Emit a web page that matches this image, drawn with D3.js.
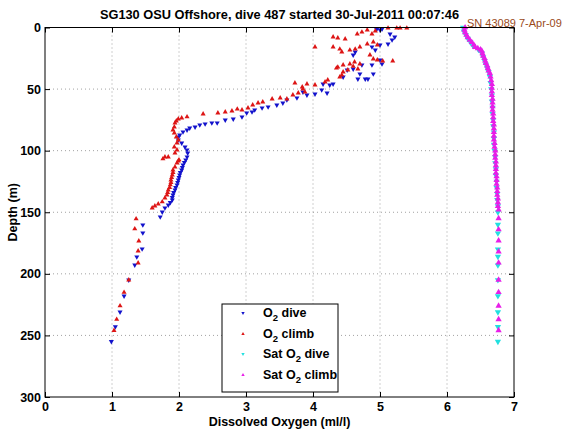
<!DOCTYPE html>
<html><head><meta charset="utf-8">
<script src="https://cdn.jsdelivr.net/npm/d3@7"></script>
<style>
body{margin:0;background:#fff;}
svg{display:block;}
text{font-family:"Liberation Sans",Arial,Helvetica,sans-serif;}
</style>
</head><body>
<svg id="chart" width="570" height="430"></svg>
<script>
// ---------- data ----------
const titleText = "SG130 OSU Offshore, dive 487 started 30-Jul-2011 00:07:46";
const snText = "SN 43089 7-Apr-09";
const xLabel = "Dissolved Oxygen (ml/l)";
const yLabel = "Depth (m)";
const xTicks = [0,1,2,3,4,5,6,7];
const yTicks = [0,50,100,150,200,250,300];

// [oxygen (ml/l), depth (m)]
const o2Dive = [
 [5.00,2],[4.95,1.5],[5.03,1.2],[5.15,5.3],[5.22,7.7],[5.18,10.1],[5.12,13.4],[5.00,14.2],[4.88,15.8],
 [4.93,18.3],[4.63,19.9],[4.60,22.3],[5.00,26.4],[5.03,29.6],[4.88,30.4],[4.73,30.4],
 [4.60,33.7],[4.51,34.5],[4.90,37.7],[4.70,37.7],[4.45,40.2],[4.67,41.8],[4.78,41.8],
 [4.82,41.8],[4.30,45.9],[4.25,46.7],[4.15,45.9],[4.13,50.7],[4.21,53.2],[4.03,54.0],
 [3.85,52.4],[3.91,54.8],[3.76,57.2],[3.61,58.8],[3.55,61.3],[3.46,62.9],[3.33,64.5],
 [3.24,65.3],[3.13,66.9],[3.09,68.5],[3.01,69.3],[2.94,72.6],[2.81,74.3],[2.69,75.1],
 [2.57,77.5],[2.49,77.5],[2.39,78.3],[2.31,79.1],[2.24,80.8],[2.16,81.6],[2.12,83.2],
 [2.06,84.8],[2.01,87.3],[1.99,88.9],[1.99,91.3],[2.04,93.8],[2.09,97.0],[2.12,99.4],
 [2.13,101.9],[2.12,105.1],[2.10,107.5],[2.08,109.5],[2.06,111.6],[2.05,113.7],[2.04,115.7],
 [2.02,117.7],[2.01,119.7],[2.00,121.8],[1.99,123.8],[1.98,125.8],[1.97,127.8],[1.95,129.9],
 [1.94,131.9],[1.92,134.0],[1.91,136.0],[1.90,138.0],[1.90,140.0],[1.87,142.1],[1.84,144.1],
 [1.79,146.5],[1.75,149.8],[1.72,153.8],
 [1.46,160.3],[1.46,166.8],[1.45,179.8],[1.37,186.3],[1.34,192.8],
 [1.25,205],[1.18,218],[1.12,231],[1.05,243],[0.99,255]
];
const o2Climb = [
 [1.03,246],[1.07,237],[1.12,226],[1.18,215],[1.25,205],
 [1.39,191.2],[1.39,181.4],[1.40,173.3],[1.34,163.5],[1.36,155.4],
 [1.60,146.5],[1.64,144.9],[1.69,143.3],[1.75,141.6],[1.79,138.4],[1.82,136.0],[1.83,134.0],
 [1.84,131.9],[1.86,129.9],[1.87,127.8],[1.88,125.8],[1.88,123.8],[1.89,121.8],[1.90,119.7],
 [1.91,117.7],[1.91,115.7],[1.94,113.2],[1.97,110.0],[1.99,108.4],[2.00,107.5],
 [1.76,106.7],[1.79,105.1],[1.84,105.1],
 [1.94,101.9],[1.97,99.4],[1.93,97.0],[1.97,93.8],[1.99,91.3],[1.96,88.9],[1.93,85.6],
 [1.91,83.2],[1.93,80.8],[1.94,77.5],[1.96,75.9],[1.99,74.3],
 [2.04,73.5],[2.12,72.6],[2.36,70.2],[2.58,69.4],[2.69,68.6],[2.79,67.8],[2.87,66.2],
 [2.94,67.0],[3.03,65.3],[3.10,62.9],[3.18,61.3],[3.25,60.5],[3.39,58.0],[3.51,57.2],
 [3.61,58.0],[3.70,54.8],[3.78,53.2],[3.84,48.3],[3.88,52.4],
 [3.85,49.9],[3.91,45.9],[3.73,45.0],[4.03,46.7],[4.18,44.2],[4.22,42.6],[4.40,40.2],[4.43,38.6],
 [4.45,36.1],[4.37,32.1],[4.45,30.4],[4.55,29.6],[4.70,29.6],[4.67,33.7],[4.52,34.5],
 [4.60,31.5],[4.35,33.0],[4.62,28.0],
 [4.85,22.3],[4.90,25.6],[4.96,26.4],[5.04,27.2],[5.19,27.2],[4.43,19.9],[4.55,18.3],
 [4.63,17.5],[4.70,15.8],[4.81,13.4],[4.90,11.8],[4.96,14.2],[4.30,15.8],[4.40,17.5],
 [4.03,15.8],[4.30,7.7],[4.37,8.5],[4.48,9.3],[4.66,5.3],[4.73,3.7],[4.81,2.0],[4.88,5.3],
 [4.93,2.8],[5.12,0.5],[5.25,0.5],[5.30,0.5],[5.40,0.5]
];
const satDive = [
 [6.24,0],[6.25,3],[6.28,6],[6.31,9],[6.35,12],[6.39,15],[6.47,18],[6.52,21],[6.54,24],
 [6.56,27],[6.58,30],[6.60,33],[6.62,36],[6.64,40],[6.65,45],[6.66,50],[6.67,55],[6.67,60],
 [6.68,65],[6.68,70],[6.69,75],[6.69,80],[6.70,85],[6.70,90],[6.70,95],[6.71,100],[6.72,105],
 [6.72,110],[6.73,115],[6.73,120],[6.74,125],[6.74,130],[6.75,135],[6.75,140],[6.76,145],
 [6.76,150],[6.76,160],[6.76,167],[6.76,180],[6.76,186],[6.76,193],[6.76,205],[6.76,218],
 [6.76,231],[6.76,243],[6.76,255]
];
const satClimb = [
 [6.27,0],[6.26,2],[6.27,4],[6.29,6],[6.31,8],[6.34,10],[6.37,12],[6.40,14],[6.42,16],
 [6.46,17],[6.50,18],[6.52,19],[6.53,21],[6.54,23],[6.56,25],[6.57,27],[6.58,29],[6.60,31],
 [6.61,33],[6.62,35],[6.64,37],[6.65,40],[6.66,43],[6.67,46],[6.67,49],[6.67,52],[6.67,55],
 [6.68,58],[6.68,61],[6.68,64],[6.68,67],[6.69,70],[6.69,73],[6.69,76],[6.70,79],[6.70,82],
 [6.70,85],[6.70,88],[6.70,91],[6.71,94],[6.71,97],[6.72,100],[6.72,103],[6.72,106],
 [6.73,109],[6.73,112],[6.73,115],[6.73,118],[6.74,121],[6.74,124],[6.74,127],[6.75,130],
 [6.75,133],[6.75,136],[6.76,139],[6.76,142],[6.76,145],[6.77,148],
 [6.77,155],[6.77,164],[6.77,173],[6.77,182],[6.77,191],[6.77,205],[6.77,215],[6.77,226],
 [6.77,237],[6.77,246]
];
const seriesNames = ["dive","climb","Sat dive","Sat climb"];
const seriesColors = ["#1212cc","#dd1515","#22e0e0","#e81ee8"];

// ---------- drawing ----------
const svg = d3.select("#chart");
const L = 45, R = 514, T = 27.5, B = 397;
const x = d3.scaleLinear().domain([0,7]).range([L,R]);
const y = d3.scaleLinear().domain([0,300]).range([T,B]);
const FS = "12.5px";

svg.append("rect").attr("x",0).attr("y",0).attr("width",570).attr("height",430).attr("fill","#fff");

// grid
const grid = svg.append("g").attr("stroke","#8a8a8a").attr("stroke-width",0.8).attr("stroke-dasharray","1,3");
grid.selectAll(".gx").data(xTicks.slice(1,-1)).join("line")
  .attr("x1",d=>x(d)).attr("x2",d=>x(d)).attr("y1",T).attr("y2",B);
grid.selectAll(".gy").data(yTicks.slice(1,-1)).join("line")
  .attr("y1",d=>y(d)).attr("y2",d=>y(d)).attr("x1",L).attr("x2",R);

// data
function drawSeries(data, color, down, size){
  const tri = d3.symbol().type(d3.symbolTriangle).size(size);
  svg.append("g").selectAll("path").data(data).join("path")
    .attr("d", tri)
    .attr("fill", color)
    .attr("transform", d=>`translate(${x(d[0])},${y(d[1])})` + (down?" rotate(180)":""));
}
drawSeries(o2Dive, seriesColors[0], true, 11);
drawSeries(o2Climb, seriesColors[1], false, 11);
drawSeries(satDive, seriesColors[2], true, 17);
drawSeries(satClimb, seriesColors[3], false, 17);

// axes
const fmt = d3.format("d");
const ax = svg.append("g").attr("transform",`translate(0,${B})`)
  .call(d3.axisBottom(x).tickValues(xTicks).tickFormat(fmt).tickSizeInner(-5).tickSizeOuter(0).tickPadding(5));
const ay = svg.append("g").attr("transform",`translate(${L},0)`)
  .call(d3.axisLeft(y).tickValues(yTicks).tickFormat(fmt).tickSizeInner(-5).tickSizeOuter(0).tickPadding(4));
const at = svg.append("g").attr("transform",`translate(0,${T})`)
  .call(d3.axisTop(x).tickValues(xTicks).tickFormat("").tickSizeInner(-5).tickSizeOuter(0));
const ar = svg.append("g").attr("transform",`translate(${R},0)`)
  .call(d3.axisRight(y).tickValues(yTicks).tickFormat("").tickSizeInner(-5).tickSizeOuter(0));
[ax,ay,at,ar].forEach(g=>{
  g.selectAll("text").attr("font-size",FS).attr("font-weight","bold").attr("fill","#000")
   .attr("font-family","Liberation Sans, Arial, sans-serif");
  g.selectAll("line").attr("stroke","#000");
  g.select(".domain").remove();
});
svg.append("rect").attr("x",L).attr("y",T).attr("width",R-L).attr("height",B-T)
  .attr("fill","none").attr("stroke","#000").attr("stroke-width",1);

// titles
svg.append("text").attr("x",(L+R)/2).attr("y",19).attr("text-anchor","middle")
  .attr("font-size","12.8px").attr("font-weight","bold").text(titleText);
svg.append("text").attr("x",(L+R)/2).attr("y",426).attr("text-anchor","middle")
  .attr("font-size",FS).attr("font-weight","bold").text(xLabel);
svg.append("text").attr("transform",`translate(17,${(T+B)/2}) rotate(-90)`).attr("text-anchor","middle")
  .attr("font-size",FS).attr("font-weight","bold").text(yLabel);
svg.append("text").attr("x",467).attr("y",27).attr("font-size","11px").attr("fill","#9a4a1a").text(snText);

// legend
const lg = svg.append("g");
lg.append("rect").attr("x",222).attr("y",304).attr("width",116).attr("height",88)
  .attr("fill","#fff").attr("stroke","#000").attr("stroke-width",1);
const legTri = d3.symbol().type(d3.symbolTriangle).size(5);
const legY = [312,333,353,374];
seriesNames.forEach((name,i)=>{
  lg.append("path").attr("d",legTri).attr("fill",seriesColors[i])
    .attr("transform",`translate(243,${legY[i]+1})`+(i%2===0?" rotate(180)":""));
  const t = lg.append("text").attr("x",263).attr("y",legY[i]+4.5)
    .attr("font-size",FS).attr("font-weight","bold");
  const pre = name.startsWith("Sat") ? "Sat O" : "O";
  const post = name.startsWith("Sat") ? name.slice(3) : " " + name;
  t.append("tspan").text(pre);
  t.append("tspan").attr("dy",4).attr("font-size","9.5px").text("2");
  t.append("tspan").attr("dy",-4).text(post);
});
</script>
</body></html>
